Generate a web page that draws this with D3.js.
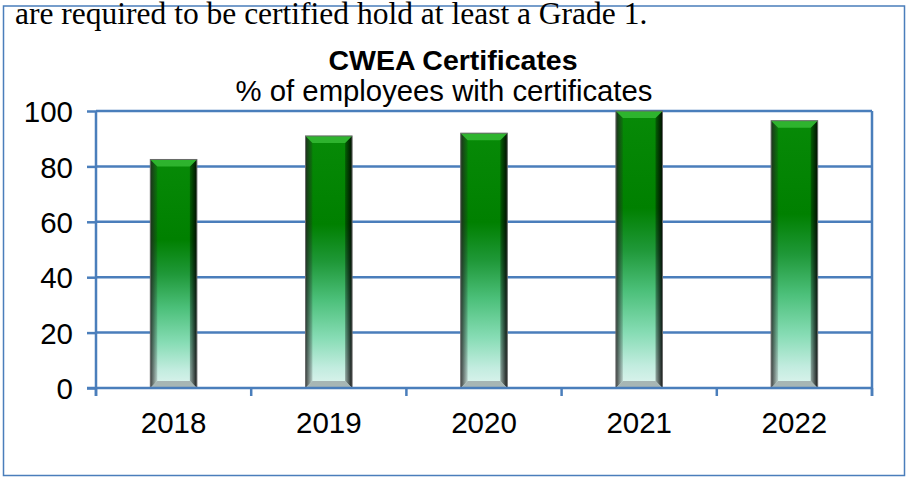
<!DOCTYPE html>
<html>
<head>
<meta charset="utf-8">
<script src="https://cdn.jsdelivr.net/npm/d3@7"></script>
<style>
  html, body { margin: 0; padding: 0; background: #fff; }
  svg { display: block; }
  text { font-family: Arial, "Liberation Sans", sans-serif; }
</style>
</head>
<body>
<div id="chart"></div>
<script>
'use strict';

const years = ['2018', '2019', '2020', '2021', '2022'];
const certPct = [82.5, 91, 92, 100, 96.5];
const yTicks = [0, 20, 40, 60, 80, 100];

const introText = 'are required to be certified hold at least a Grade 1.';
const chartTitle = 'CWEA Certificates';
const chartSubtitle = '% of employees with certificates';

const width = 906, height = 477,
    blue = '#4a7ebb',
    plot = { left: 96, right: 872, top: 111, bottom: 388 },
    labelSize = '29.5px',
    bevel = 7;

const svg = d3.select('#chart').append('svg')
    .attr('width', width)
    .attr('height', height);

const defs = svg.append('defs');

// body of the bar, dark green at top fading to pale mint at the base
const bodyGrad = defs.append('linearGradient')
    .attr('id', 'barBody')
    .attr('x1', 0).attr('y1', 0).attr('x2', 0).attr('y2', 1);
[[0, '#078a07'], [0.35, '#008000'], [0.5, '#1f9838'], [0.65, '#4cc07a'],
 [0.8, '#86dcb4'], [0.92, '#c2ecdf'], [1, '#dff4ef']].forEach(([o, c]) => {
    bodyGrad.append('stop').attr('offset', o).attr('stop-color', c);
});

const leftGrad = defs.append('linearGradient')
    .attr('id', 'bevelLeft')
    .attr('x1', 0).attr('y1', 0).attr('x2', 1).attr('y2', 0);
leftGrad.append('stop').attr('offset', 0).attr('stop-color', '#222').attr('stop-opacity', 0.85);
leftGrad.append('stop').attr('offset', 1).attr('stop-color', '#222').attr('stop-opacity', 0.15);

const rightGrad = defs.append('linearGradient')
    .attr('id', 'bevelRight')
    .attr('x1', 0).attr('y1', 0).attr('x2', 1).attr('y2', 0);
rightGrad.append('stop').attr('offset', 0).attr('stop-color', '#000').attr('stop-opacity', 0.3);
rightGrad.append('stop').attr('offset', 1).attr('stop-color', '#000').attr('stop-opacity', 0.9);

// outer frame
svg.append('rect')
    .attr('x', 3.5).attr('y', 6)
    .attr('width', 901).attr('height', 469.5)
    .attr('fill', 'none')
    .attr('stroke', blue)
    .attr('stroke-width', 1.5);

svg.append('text')
    .attr('x', 15).attr('y', 24)
    .style('font-family', '"Liberation Serif", "Times New Roman", serif')
    .style('font-size', '31.5px')
    .attr('fill', '#000')
    .text(introText);

svg.append('text')
    .attr('x', 453).attr('y', 70)
    .attr('text-anchor', 'middle')
    .style('font-size', '28.5px')
    .style('font-weight', 'bold')
    .text(chartTitle);

svg.append('text')
    .attr('x', 444).attr('y', 101)
    .attr('text-anchor', 'middle')
    .style('font-size', '29.3px')
    .text(chartSubtitle);

const x = d3.scaleBand()
    .domain(years)
    .range([plot.left, plot.right])
    .padding(0);

const y = d3.scaleLinear()
    .domain([0, 100])
    .range([plot.bottom, plot.top]);

// gridlines
svg.append('g')
    .selectAll('line')
    .data(yTicks.filter(d => d > 0))
    .enter().append('line')
    .attr('x1', plot.left).attr('x2', plot.right)
    .attr('y1', d => y(d)).attr('y2', d => y(d))
    .attr('stroke', blue)
    .attr('stroke-width', 2.5);

// right edge of plot area
svg.append('line')
    .attr('x1', plot.right).attr('x2', plot.right)
    .attr('y1', plot.top).attr('y2', plot.bottom + 8)
    .attr('stroke', blue)
    .attr('stroke-width', 2.5);

// y axis
const yAxis = d3.axisLeft(y).tickValues(yTicks).tickSize(9).tickSizeOuter(0).tickPadding(14);
const yG = svg.append('g')
    .attr('transform', `translate(${plot.left},0)`)
    .call(yAxis);
yG.select('.domain').attr('stroke', blue).attr('stroke-width', 2.5);
yG.selectAll('.tick line').attr('stroke', blue).attr('stroke-width', 2.5);
yG.selectAll('.tick text')
    .style('font-size', labelSize)
    .style('font-family', 'Arial, "Liberation Sans", sans-serif')
    .attr('fill', '#000')
    .attr('dy', '0.36em');
yG.select('.domain').attr('d', `M0,${plot.top}V${plot.bottom + 8}`);

// bars
const barW = x.bandwidth() * 0.3;
const bars = svg.append('g')
    .selectAll('g')
    .data(years.map((yr, i) => ({ yr, v: certPct[i] })))
    .enter().append('g')
    .attr('transform', d => `translate(${x(d.yr) + x.bandwidth() / 2 - barW / 2},0)`);

bars.append('rect')
    .attr('x', 0).attr('y', d => y(d.v))
    .attr('width', barW)
    .attr('height', d => y(0) - y(d.v))
    .attr('fill', 'url(#barBody)');

bars.append('path')
    .attr('d', d => {
        const t = y(d.v), b = y(0);
        return `M0,${t}L${bevel},${t + bevel}L${bevel},${b - bevel}L0,${b}Z`;
    })
    .attr('fill', 'url(#bevelLeft)');

bars.append('path')
    .attr('d', d => {
        const t = y(d.v), b = y(0);
        return `M${barW},${t}L${barW - bevel},${t + bevel}L${barW - bevel},${b - bevel}L${barW},${b}Z`;
    })
    .attr('fill', 'url(#bevelRight)');

bars.append('path')
    .attr('d', d => {
        const t = y(d.v);
        return `M0,${t}L${barW},${t}L${barW - bevel},${t + bevel}L${bevel},${t + bevel}Z`;
    })
    .attr('fill', '#3cc23c')
    .attr('opacity', 0.75);

bars.append('path')
    .attr('d', () => {
        const b = y(0);
        return `M0,${b}L${barW},${b}L${barW - bevel},${b - bevel}L${bevel},${b - bevel}Z`;
    })
    .attr('fill', '#9aa6a6')
    .attr('opacity', 0.8);

bars.append('rect')
    .attr('x', 0).attr('y', d => y(d.v))
    .attr('width', barW)
    .attr('height', d => y(0) - y(d.v))
    .attr('fill', 'none')
    .attr('stroke', '#6a6a6a')
    .attr('stroke-width', 1);

// x axis
svg.append('line')
    .attr('x1', plot.left - 9).attr('x2', plot.right)
    .attr('y1', plot.bottom).attr('y2', plot.bottom)
    .attr('stroke', blue)
    .attr('stroke-width', 2.5);

svg.append('g')
    .selectAll('line')
    .data(years.map(d => x(d)).concat([plot.right]))
    .enter().append('line')
    .attr('x1', d => d).attr('x2', d => d)
    .attr('y1', plot.bottom).attr('y2', plot.bottom + 8)
    .attr('stroke', blue)
    .attr('stroke-width', 2.5);

svg.append('g')
    .selectAll('text')
    .data(years)
    .enter().append('text')
    .attr('x', d => x(d) + x.bandwidth() / 2)
    .attr('y', 433)
    .attr('text-anchor', 'middle')
    .style('font-size', labelSize)
    .attr('fill', '#000')
    .text(d => d);
</script>
</body>
</html>
